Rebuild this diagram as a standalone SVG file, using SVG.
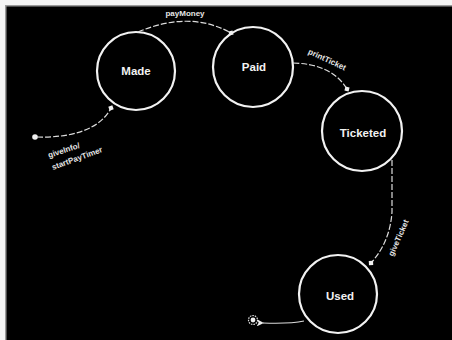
<svg xmlns="http://www.w3.org/2000/svg" width="452" height="340" viewBox="0 0 452 340">
<style>
.state circle{fill:none;stroke:#f2f2f2;stroke-width:2.2}
.state text{fill:#f2f2f2;font-family:"Liberation Sans",Arial,sans-serif;font-size:11.5px;font-weight:bold;text-anchor:middle}
.conn path{fill:none;stroke:#dcdcdc;stroke-width:1.2}
.dash{stroke-dasharray:6 2}
.lbl{fill:#e6e6e6;font-family:"Liberation Sans",Arial,sans-serif;font-size:8px;font-weight:bold}
</style>
<defs>
<marker id="dot" viewBox="0 0 6 6" refX="3" refY="3" markerWidth="6" markerHeight="6" markerUnits="userSpaceOnUse" orient="auto">
<path d="M0,3 L3,0 L6,3 L3,6 Z" fill="#f0f0f0"/>
</marker>
<marker id="tri" viewBox="0 0 8 8" refX="1" refY="4" markerWidth="7" markerHeight="7" markerUnits="userSpaceOnUse" orient="auto">
<path d="M0,4 L8,0 L6,4 L8,8 Z" fill="#f0f0f0"/>
</marker>
</defs>
<rect x="0" y="0" width="452" height="340" fill="#000"/>
<rect x="0" y="0" width="452" height="5" fill="#f4f4f4"/>
<rect x="0" y="5" width="452" height="1.5" fill="#9a9a9a"/>
<rect x="0" y="0" width="5" height="340" fill="#f4f4f4"/>
<rect x="5" y="5" width="1.5" height="335" fill="#9a9a9a"/>

<g id="initial">
<circle cx="35" cy="137" r="2.8" fill="#f0f0f0"/>
</g>

<g id="made" class="state">
<circle cx="136" cy="71" r="39"/>
<text x="136" y="75">Made</text>
</g>
<g id="paid" class="state">
<circle cx="253" cy="67" r="40"/>
<text x="254" y="71">Paid</text>
</g>
<g id="ticketed" class="state">
<circle cx="362" cy="131" r="40"/>
<text x="363" y="137">Ticketed</text>
</g>
<g id="used" class="state">
<circle cx="338" cy="294" r="39"/>
<text x="340" y="300">Used</text>
</g>

<g id="final">
<circle cx="253" cy="320" r="4.5" fill="none" stroke="#e0e0e0" stroke-width="1.2" stroke-dasharray="1.5 1"/>
<circle cx="253" cy="320" r="2.4" fill="#f0f0f0"/>
</g>

<g id="connectors" class="conn">
<path class="dash" d="M37,137 C70,138 100,130 111,108" marker-end="url(#dot)"/>
<path class="dash" d="M138,32 Q190,10 231,33" marker-end="url(#dot)"/>
<path class="dash" d="M293,63 Q332,64 347,89" marker-end="url(#dot)"/>
<path class="dash" d="M392,160 L392,212 Q390,242 371,263" marker-end="url(#dot)"/>
<path d="M304,321 Q290,324 263,323" marker-end="url(#tri)"/>
</g>

<g id="labels">
<text class="lbl" x="185" y="16" text-anchor="middle">payMoney</text>
<text class="lbl" transform="translate(326,62) rotate(25)" text-anchor="middle">printTicket</text>
<text class="lbl" transform="translate(401,239) rotate(-66)" text-anchor="middle">giveTicket</text>
<text class="lbl" transform="translate(49,158) rotate(-18)">giveInfo/</text>
<text class="lbl" transform="translate(53,170) rotate(-20)">startPayTimer</text>
</g>
</svg>
